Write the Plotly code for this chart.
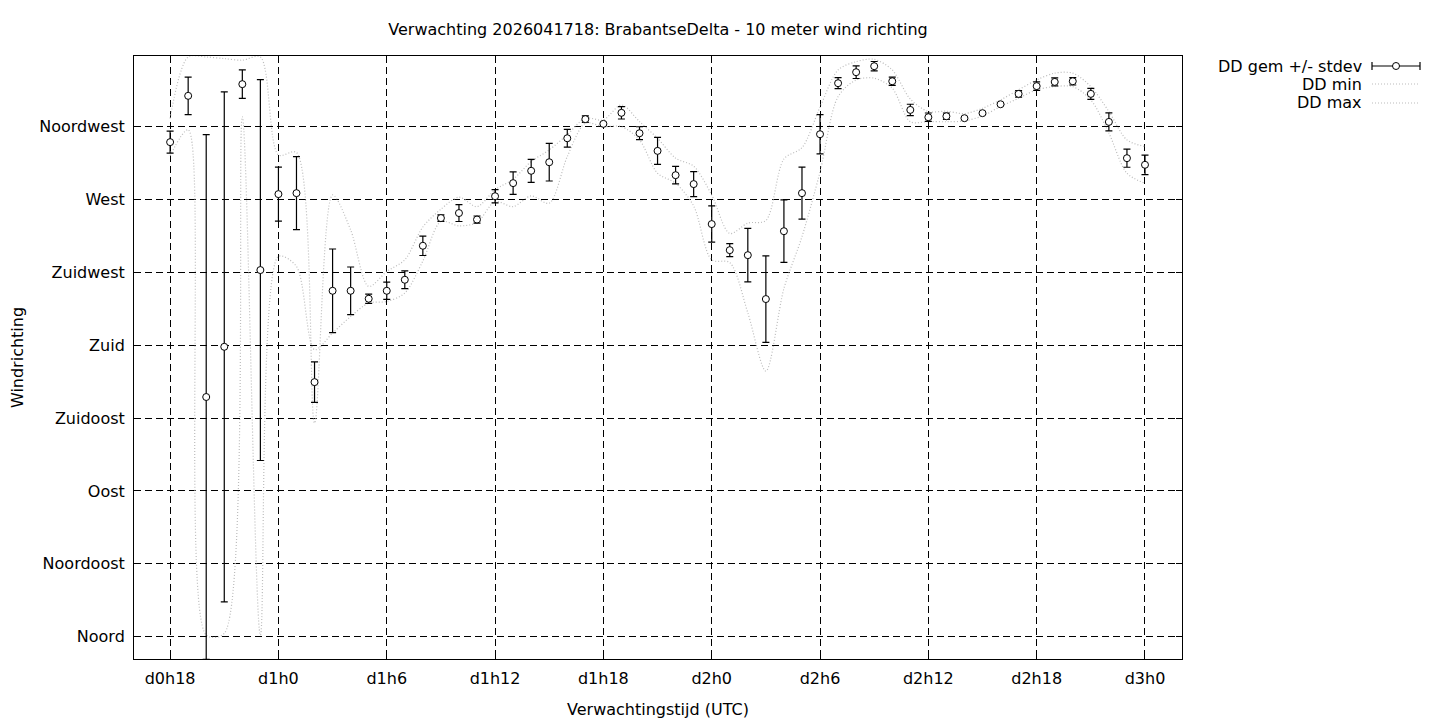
import plotly.graph_objects as go

# forecast hours since d0h0
hours = list(range(18, 73))

dd_mean = [
    305.4, 334.0, 148.0, 179.0, 341.2, 226.4, 273.3, 273.9, 157.2, 213.6,
    213.6, 208.7, 213.6, 220.4, 241.4, 258.5, 261.6, 257.6, 272.0, 280.1,
    287.7, 293.0, 307.8, 319.6, 316.7, 323.5, 310.9, 300.0, 285.0, 279.5,
    254.8, 238.7, 235.6, 208.5, 250.4, 273.9, 310.3, 341.8, 348.6, 352.3,
    343.0, 325.3, 320.8, 321.4, 320.2, 323.3, 328.8, 335.2, 340.0, 342.6,
    343.0, 335.2, 317.9, 295.5, 291.4,
]
dd_stdev = [
    6.8, 11.6, 162.0, 157.5, 8.8, 117.6, 16.7, 22.5, 12.5, 25.8,
    14.7, 2.9, 5.3, 5.5, 6.0, 2.0, 5.2, 2.2, 4.1, 6.9,
    7.1, 11.6, 5.5, 2.0, 1.0, 3.8, 4.0, 8.3, 5.4, 7.7,
    11.2, 4.0, 16.5, 26.7, 19.3, 16.1, 12.1, 3.4, 3.9, 2.9,
    2.6, 3.5, 2.6, 2.0, 0.5, 0.8, 0.6, 2.0, 2.6, 2.5,
    2.3, 3.4, 5.6, 5.6, 6.0,
]
dd_min = [
    297.0, 313.0, 1.0, 2.0, 321.0, 1.0, 234.8, 228.6, 177.2, 187.5,
    197.7, 206.0, 207.0, 212.2, 232.0, 256.4, 253.7, 255.8, 268.7, 265.6,
    272.2, 267.7, 296.5, 317.1, 315.0, 315.0, 306.8, 286.2, 280.0, 266.0,
    232.7, 231.0, 200.0, 164.0, 215.0, 247.0, 287.0, 333.5, 343.8, 344.9,
    338.7, 318.0, 318.1, 318.0, 318.5, 321.6, 327.4, 332.5, 337.7, 339.7,
    339.7, 331.5, 311.0, 286.2, 280.0,
]
dd_max = [
    320.0, 358.0, 358.0, 357.0, 356.0, 358.0, 297.5, 299.0, 131.9, 272.8,
    251.2, 216.3, 225.5, 232.7, 253.0, 264.0, 271.4, 265.6, 276.0, 282.5,
    293.4, 300.6, 310.0, 320.2, 319.1, 328.4, 318.1, 307.8, 295.5, 290.5,
    272.8, 249.0, 255.4, 257.0, 295.0, 302.0, 327.0, 350.0, 355.1, 356.6,
    350.0, 332.0, 324.3, 324.5, 323.0, 326.3, 331.5, 337.7, 343.8, 348.0,
    348.0, 339.7, 324.3, 306.8, 302.7,
]

x_tickvals = [18, 24, 30, 36, 42, 48, 54, 60, 66, 72]
x_ticktext = ["d0h18", "d1h0", "d1h6", "d1h12", "d1h18", "d2h0", "d2h6", "d2h12", "d2h18", "d3h0"]
y_tickvals = [0, 45, 90, 135, 180, 225, 270, 315]
y_ticktext = ["Noord", "Noordoost", "Oost", "Zuidoost", "Zuid", "Zuidwest", "West", "Noordwest"]

FONT = "DejaVu Sans"
FSIZE = 16
DOT_GRAY = "#bcbcbc"

fig = go.Figure()
fig.add_trace(go.Scatter(
    x=hours, y=dd_min, mode="lines", name="DD min",
    line=dict(color=DOT_GRAY, width=1.2, dash="1px,2px", shape="spline", smoothing=0.85),
))
fig.add_trace(go.Scatter(
    x=hours, y=dd_max, mode="lines", name="DD max",
    line=dict(color=DOT_GRAY, width=1.2, dash="1px,2px", shape="spline", smoothing=0.85),
))
fig.add_trace(go.Scatter(
    x=hours, y=dd_mean, mode="markers", name="DD gem +/- stdev",
    marker=dict(symbol="circle", size=7, color="white", line=dict(color="black", width=1)),
    error_y=dict(type="data", array=dd_stdev, symmetric=True, color="black", thickness=1.2, width=3.5),
))

# page body adds an 8px offset, so the layout is shifted back by that much
L, T, PW, PH = 126, 48, 1048, 603

def px(xp):
    return (xp - 8 - L) / PW

def py(yp):
    return (T + PH - (yp - 8)) / PH

# legend drawn gnuplot-style: text right aligned, sample to the right
legend_rows = [("DD gem +/- stdev", py(66)), ("DD min", py(84)), ("DD max", py(103))]
annotations = []
shapes = []
for label, ypos in legend_rows:
    annotations.append(dict(
        text=label, xref="paper", yref="paper", x=px(1364), y=ypos,
        xanchor="right", yanchor="middle", showarrow=False,
        font=dict(family=FONT, size=FSIZE, color="black"),
    ))
sx0, sx1 = px(1372), px(1420)
y0 = legend_rows[0][1]
shapes.append(dict(type="line", xref="paper", yref="paper", x0=sx0, x1=sx1, y0=y0, y1=y0,
                   line=dict(color="black", width=1.2)))
for sx in (sx0, sx1):
    shapes.append(dict(type="line", xref="paper", yref="paper", xsizemode="pixel", ysizemode="pixel",
                       xanchor=sx, yanchor=y0, x0=0, x1=0, y0=-4, y1=4,
                       line=dict(color="black", width=1.2)))
shapes.append(dict(type="circle", xref="paper", yref="paper", xsizemode="pixel", ysizemode="pixel",
                   xanchor=(sx0 + sx1) / 2, yanchor=y0, x0=-3.5, x1=3.5, y0=-3.5, y1=3.5,
                   fillcolor="white", line=dict(color="black", width=1)))
for _, ypos in legend_rows[1:]:
    shapes.append(dict(type="line", xref="paper", yref="paper", x0=sx0, x1=sx1, y0=ypos, y1=ypos,
                       line=dict(color=DOT_GRAY, width=1.2, dash="1px,2px")))

axis_common = dict(
    showline=True, linecolor="black", linewidth=1, mirror="ticks",
    ticks="inside", ticklen=6, tickcolor="black", automargin=False,
    showgrid=True, gridcolor="black", gridwidth=1, griddash="7px,4px",
    zeroline=False, tickfont=dict(family=FONT, size=FSIZE, color="black"),
)

fig.update_layout(
    width=1440, height=720,
    title=dict(text="Verwachting 2026041718: BrabantseDelta - 10 meter wind richting",
               x=(658 - 8) / 1440, xanchor="center", y=1 - (29 - 8) / 720, yanchor="middle",
               font=dict(family=FONT, size=FSIZE, color="black")),
    margin=dict(l=L, r=1440 - L - PW, t=T, b=720 - T - PH, autoexpand=False),
    plot_bgcolor="white", paper_bgcolor="white",
    showlegend=False,
    xaxis=dict(range=[16, 74.05], tickvals=x_tickvals, ticktext=x_ticktext, ticklabelstandoff=5,
               title=dict(text="Verwachtingstijd (UTC)", font=dict(family=FONT, size=FSIZE, color="black"), standoff=16),
               **axis_common),
    yaxis=dict(range=[-13.8, 358.6], tickvals=y_tickvals, ticktext=y_ticktext, ticklabelstandoff=5,
               title=dict(text="Windrichting", font=dict(family=FONT, size=FSIZE, color="black"), standoff=12),
               **axis_common),
    annotations=annotations,
    shapes=shapes,
    font=dict(family=FONT, size=FSIZE, color="black"),
)

fig.write_html("out.html")
